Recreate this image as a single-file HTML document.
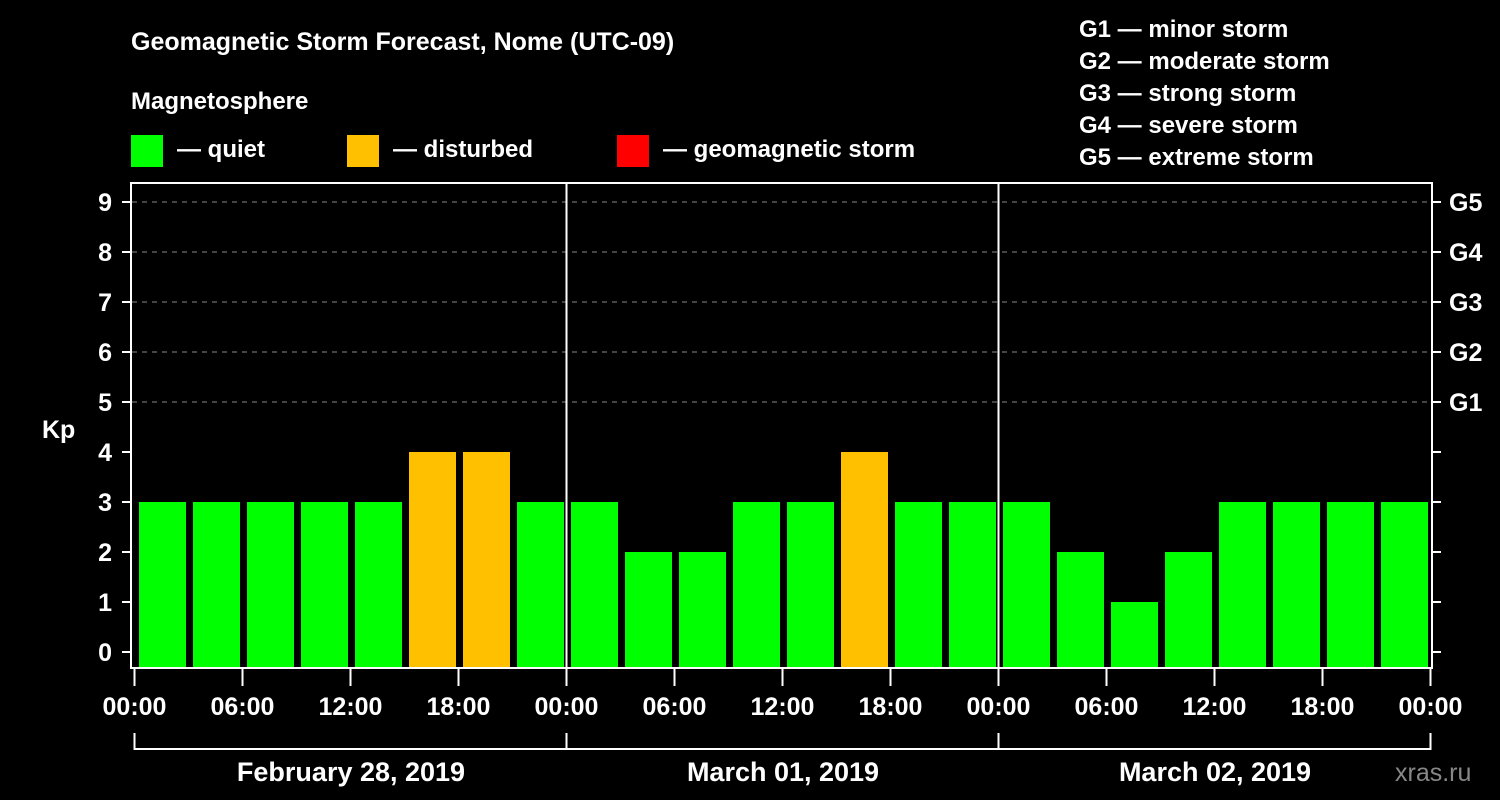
<!DOCTYPE html>
<html><head><meta charset="utf-8"><style>
html,body{margin:0;padding:0;background:#000;}
svg{display:block;font-family:"Liberation Sans",Arial,sans-serif;font-weight:bold;}
</style></head><body>
<svg id="chart" width="1500" height="800" viewBox="0 0 1500 800">
<rect width="1500" height="800" fill="#000"/>
<text x="131" y="50" fill="#fff" font-size="25">Geomagnetic Storm Forecast, Nome (UTC-09)</text>
<text x="131" y="109" fill="#fff" font-size="24">Magnetosphere</text>
<g><rect x="131" y="135" width="32" height="32" fill="#00ff00"/><text x="177" y="157" fill="#fff" font-size="24">— quiet</text></g>
<g><rect x="347" y="135" width="32" height="32" fill="#ffc000"/><text x="393" y="157" fill="#fff" font-size="24">— disturbed</text></g>
<g><rect x="617" y="135" width="32" height="32" fill="#ff0000"/><text x="663" y="157" fill="#fff" font-size="24">— geomagnetic storm</text></g>
<g fill="#fff" font-size="24">
<text x="1079" y="37">G1 — minor storm</text>
<text x="1079" y="69">G2 — moderate storm</text>
<text x="1079" y="101">G3 — strong storm</text>
<text x="1079" y="133">G4 — severe storm</text>
<text x="1079" y="165">G5 — extreme storm</text>
</g>
<text x="42" y="438" fill="#fff" font-size="25">Kp</text>
<g id="grid"></g><g id="bars"></g><g id="axes"></g>
<text x="1395" y="781" fill="#888" font-size="25" font-weight="normal">xras.ru</text>
</svg>
<script>
const kpValues=[3,3,3,3,3,4,4,3, 3,2,2,3,3,4,3,3, 3,2,1,2,3,3,3,3];
const dayLabels=["February 28, 2019","March 01, 2019","March 02, 2019"];
const timeLabels=["00:00","06:00","12:00","18:00"];
const gLabels=["G1","G2","G3","G4","G5"];
const NS="http://www.w3.org/2000/svg";
const X0=135,DAY=432,SLOT=54;
function y(v){return 652-50*v;}
function x(i){return X0+SLOT*i;}
function mk(t,a,p){const e=document.createElementNS(NS,t);for(const k in a)e.setAttribute(k,a[k]);p.appendChild(e);return e;}
const grid=document.getElementById('grid'),bars=document.getElementById('bars'),axes=document.getElementById('axes');
for(let v=5;v<=9;v++){
 const l=mk('line',{x1:132,x2:1432,y1:y(v),y2:y(v),stroke:'#888','stroke-width':1,'stroke-dasharray':'5,5'},grid);
 
 
}
kpValues.forEach((v,i)=>{
 const c=v>=5?'#ff0000':(v>=4?'#ffc000':'#00ff00');
 const r=mk('rect',{x:x(i)+4,y:y(v),width:47,height:667-y(v),fill:c},bars);
 
 
});
const frame=mk('rect',{x:131,y:183,width:1301,height:485,fill:'none',stroke:'#fff','stroke-width':2},axes);


for(let d=1;d<dayLabels.length;d++){
 const l=mk('line',{x1:X0+DAY*d-0.5,x2:X0+DAY*d-0.5,y1:183,y2:668,stroke:'#fff','stroke-width':2},axes);
 
 
}
for(let v=0;v<=9;v++){
 mk('line',{x1:122,x2:131,y1:y(v),y2:y(v),stroke:'#fff','stroke-width':2},axes);
 mk('line',{x1:1432,x2:1441,y1:y(v),y2:y(v),stroke:'#fff','stroke-width':2},axes);
 const t=mk('text',{x:112,y:y(v)+9,fill:'#fff','font-size':25,'text-anchor':'end'},axes);
 t.textContent=v;
 
 
}
gLabels.forEach((g,i)=>{
 const t=mk('text',{x:1449,y:y(5+i)+9,fill:'#fff','font-size':25},axes);
 t.textContent=g;
 
 
});
for(let k=0;k<=12;k++){
 const xx=X0+k*DAY/4-0.5;
 mk('line',{x1:xx,x2:xx,y1:668,y2:686,stroke:'#fff','stroke-width':2},axes);
 const t=mk('text',{x:xx,y:715,fill:'#fff','font-size':25,'text-anchor':'middle'},axes);
 t.textContent=timeLabels[k%4];
 
 
}
mk('line',{x1:X0-1,x2:X0+DAY*3,y1:749,y2:749,stroke:'#fff','stroke-width':2},axes);
for(let d=0;d<=dayLabels.length;d++){
 mk('line',{x1:X0+DAY*d-0.5,x2:X0+DAY*d-0.5,y1:733,y2:750,stroke:'#fff','stroke-width':2},axes);
}
dayLabels.forEach((s,d)=>{
 const t=mk('text',{x:X0+DAY*d+DAY/2,y:781,fill:'#fff','font-size':27,'text-anchor':'middle'},axes);
 t.textContent=s;
 
 
});
</script>
</body></html>
